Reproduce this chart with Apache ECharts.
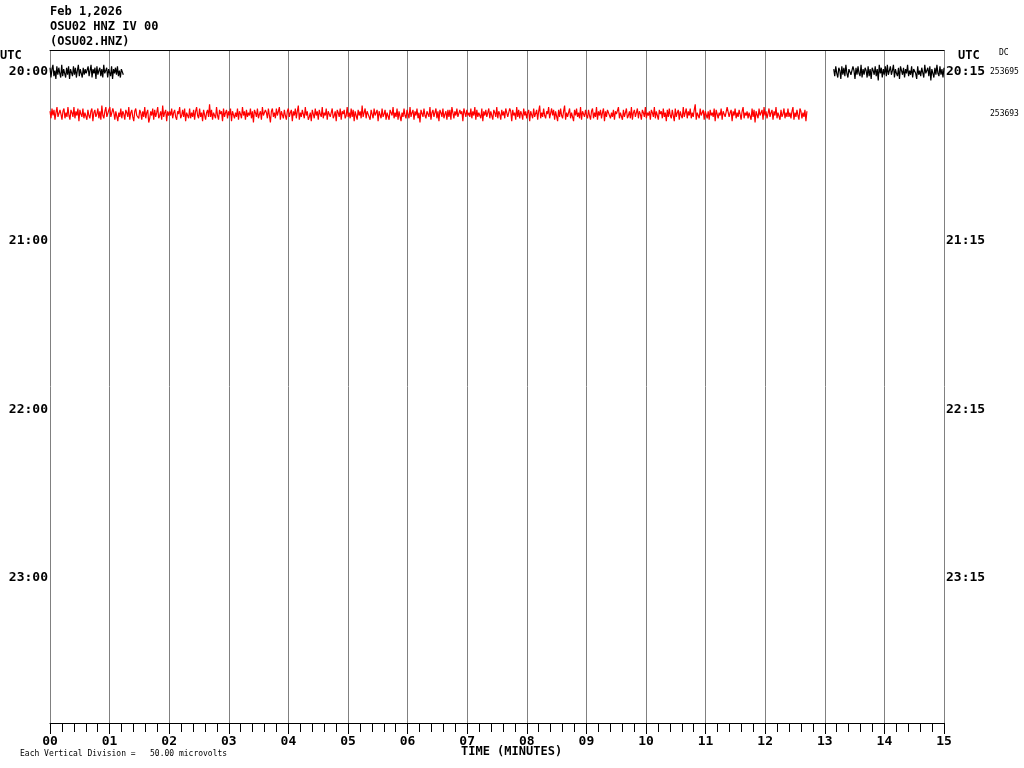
<!DOCTYPE html>
<html><head><meta charset="utf-8">
<script src="https://cdn.jsdelivr.net/npm/echarts@6/dist/echarts.min.js"></script>
<style>html,body{margin:0;padding:0;background:#fff}#c{width:1024px;height:768px}</style>
</head><body><div id="c"></div>
<script>
// ---- data ----
const titleLines = ['Feb 1,2026', 'OSU02 HNZ IV 00', '(OSU02.HNZ)'];
const leftRowLabels = ['20:00', '21:00', '22:00', '23:00'];
const rightRowLabels = ['20:15', '21:15', '22:15', '23:15'];
const labelRows = [0, 4, 8, 12];
const xTickLabels = ['00','01','02','03','04','05','06','07','08','09','10','11','12','13','14','15'];
const dcLabels = ['253695', '253693'];
const footerText = 'Each Vertical Division =   50.00 microvolts';
const xAxisTitle = 'TIME (MINUTES)';

// trace segments: row index, start minute, end minute
const blackLeft = {row: 0, start: 0.0, end: 1.23};
const blackRight = {row: 0, start: 13.15, end: 15.0};
const redTrace = {row: 1, start: 0.0, end: 12.70};

// amplitude samples (microvolt-ish units, read by eye)
const blackLeftVals = [3,-4,2,5,-3,1,-5,4,-2,3,-1,-4,5,-3,2,1,-4,3,-2,4,-5,2,1,-3,4,-2,3,-4,1,5,-3,2,-1,-4,3,-2,2,-1,
-2,4,-3,1,5,-4,2,-1,3,-5,4,-2,1,3,-3,2,-4,5,-1,-2,3,-4,2,1,-3,4,-5,2,-1,3,-2,4,-3,1,-4,2,3,-2];
const blackRightVals = [2,-3,4,-1,-4,3,1,-5,4,-2,3,-3,5,-1,-4,2,3,-2,-3,4,1,-5,3,-2,4,-1,-3,5,-4,2,-2,3,1,-4,4,-3,2,-5,3,1,-2,4,-3,2,-6,5,-1,3,-4,2,-2,4,-3,5,-2,
-3,4,-2,1,5,-4,2,-1,-3,3,-5,4,1,-2,3,-4,2,-1,5,-3,1,-2,4,-4,2,3,-1,-5,4,-2,1,-3,3,2,-4,5,-1,-2,3,-3,4,-6,2,1,-4,3,-2,5,-1,-3,4,-2,2,-4,3];
const redVals = [
2,-3,4,-1,3,-4,1,5,-2,-3,3,0,-4,2,4,-3,1,-2,5,-1,
-4,3,1,-2,5,-3,2,-1,4,-5,3,0,-2,4,-3,1,2,-4,3,-1,
-3,2,4,-5,1,3,-2,0,4,-3,2,-4,6,-1,-3,2,5,-2,-1,3,
5,-2,-3,4,1,-4,2,3,-5,1,-2,4,-3,2,0,-4,3,1,-2,5,
-4,1,3,-2,-5,2,4,-1,0,-3,3,1,-4,2,-2,5,-3,1,3,-6,
-3,2,-1,4,-4,3,-2,1,5,-3,-1,2,-4,6,-2,1,3,-5,2,-1,
2,-1,4,-3,1,3,-2,-4,2,0,5,-3,-1,3,-2,4,-5,1,2,-3,
4,-3,1,-2,3,-4,2,5,-1,-3,4,-2,1,-5,3,2,-4,1,3,-2,
7,-2,3,-4,1,2,-3,5,-1,-4,3,0,2,-5,4,-2,1,3,-3,2,
-1,4,-5,2,3,-3,1,-2,4,-4,2,0,-3,5,-1,2,-4,3,-2,1,
-1,4,-3,2,-6,3,1,-2,4,-3,0,2,-4,5,-1,-2,3,1,-3,4,
3,-6,2,4,-2,1,-3,4,-1,-2,5,-4,2,1,-3,3,-1,-4,2,4,
-2,1,3,-5,2,-1,4,-3,2,6,-4,1,-2,3,0,-3,5,-1,2,-4,
-2,1,-5,3,2,-3,4,-1,2,-4,3,0,-2,5,-3,1,-1,4,-4,2,
3,-2,1,4,-3,-1,2,-5,3,1,-2,4,-4,2,0,3,-3,-1,5,-2,
1,-3,4,-2,3,-5,2,1,-4,3,-1,2,-3,6,-2,-1,4,-3,2,0,
1,-4,3,2,-3,4,-1,-2,3,-5,2,1,-3,4,-2,0,3,-4,1,2,
-4,3,2,-1,5,-3,1,-2,4,-4,2,3,-5,1,-2,4,-1,-3,3,2,
-3,5,-2,1,3,-4,2,-1,4,-3,1,-6,3,2,-2,4,-1,-3,2,1,
-2,5,-4,1,3,-2,-1,4,-3,2,-5,3,1,-2,4,-3,0,2,-4,3,
-2,3,-4,5,1,-3,2,-1,4,-2,-3,3,0,2,-5,4,1,-2,3,-1,
1,-2,4,-3,2,-1,5,-4,3,-2,1,2,-3,4,-5,2,-1,3,-2,1,
4,-3,2,-1,-4,3,1,-2,5,-3,2,0,-4,3,-1,2,-3,4,1,-2,
-3,4,2,-5,3,-1,1,-4,5,-2,3,-3,2,0,-4,4,-1,2,-3,1,
3,-5,2,1,-3,4,-2,-1,3,-4,2,6,-3,1,-2,4,-1,-3,2,0,
5,-3,-2,4,-1,3,-4,2,1,-5,3,-2,4,-1,-3,2,6,-4,1,-2,
-2,4,-3,1,2,-5,3,-1,4,-2,1,-3,5,-4,2,1,-2,3,-1,-3,
3,-1,-4,2,4,-3,1,-2,5,-4,2,-1,3,-3,1,4,-5,2,-2,3,
2,4,-3,1,-2,3,-4,2,0,-1,5,-3,1,2,-4,3,-2,1,4,-3,
-1,2,-3,5,-4,1,3,-2,-1,4,-3,2,0,-4,3,1,-2,5,-3,1,
-1,2,-4,3,1,-2,5,-3,2,-1,-4,3,0,2,-3,4,-2,1,-5,3,
-2,4,-1,-3,3,2,-5,4,-2,1,3,-4,2,-1,-3,5,-2,1,4,-3,
2,-1,4,-3,1,-2,3,7,-4,1,2,-3,4,-1,-2,3,-4,2,1,-3,
2,-4,3,-1,1,-2,4,-5,3,2,-3,1,-1,4,-4,2,3,-2,-1,5,
4,-2,1,3,-5,2,-1,4,-3,1,-2,3,0,-4,2,5,-3,1,-1,2,
-3,1,2,-4,4,-2,3,-6,2,1,-3,4,-1,-2,3,-4,5,-1,2,-3,
-3,4,-2,1,3,-4,2,-1,5,-3,1,2,-4,3,-2,0,4,-3,1,-2,
4,-2,1,-3,2,5,-4,1,-2,3,-1,-4,4,2,-3,1,-2,3,-5,2
];

// ---- build ----
const unitsPerRow = 30;   // amplitude units per row spacing
function build(seg, vals) {
  const n = vals.length;
  const dt = (seg.end - seg.start) / (n - 1);
  return vals.map((v, i) => [seg.start + i * dt, seg.row - v / unitsPerRow]);
}

const FONT = 'DejaVu Sans Mono';
const chart = echarts.init(document.getElementById('c'));
const yMin = -0.52, yMax = 15.44;

const lineSeries = (data, color) => ({
  type: 'line', data, showSymbol: false, symbol: 'none', animation: false,
  lineStyle: {color, width: 1.2}, xAxisIndex: 0, yAxisIndex: 0, silent: true
});

chart.setOption({
  animation: false,
  backgroundColor: '#ffffff',
  grid: {left: 50, right: 80, top: 50, bottom: 45, containLabel: false},
  xAxis: [{
    type: 'value', min: 0, max: 15, interval: 1, position: 'bottom',
    axisLine: {show: true, onZero: false, lineStyle: {color: '#000', width: 1}},
    axisTick: {show: true, length: 11, lineStyle: {color: '#000'}},
    minorTick: {show: true, splitNumber: 5, length: 9, lineStyle: {color: '#000'}},
    splitLine: {show: true, lineStyle: {color: '#808080', width: 1}},
    axisLabel: {margin: 12, fontFamily: FONT, fontWeight: 'bold', fontSize: 13, color: '#000',
      formatter: v => xTickLabels[Math.round(v)] || ''}
  }, {
    type: 'value', min: 0, max: 15, position: 'top',
    axisLine: {show: true, onZero: false, lineStyle: {color: '#000', width: 1}},
    axisTick: {show: false}, axisLabel: {show: false}, splitLine: {show: false}
  }],
  yAxis: [{
    type: 'value', inverse: true, min: yMin, max: yMax, position: 'left',
    axisLine: {show: false}, axisTick: {show: false}, splitLine: {show: false},
    axisLabel: {customValues: labelRows, margin: 2, fontFamily: FONT, fontWeight: 'bold', fontSize: 13, color: '#000',
      formatter: v => leftRowLabels[labelRows.indexOf(Math.round(v))] || ''}
  }, {
    type: 'value', inverse: true, min: yMin, max: yMax, position: 'right',
    axisLine: {show: false}, axisTick: {show: false}, splitLine: {show: false},
    axisLabel: {customValues: labelRows, margin: 2, fontFamily: FONT, fontWeight: 'bold', fontSize: 13, color: '#000',
      formatter: v => rightRowLabels[labelRows.indexOf(Math.round(v))] || ''}
  }],
  series: [
    lineSeries(build(blackLeft, blackLeftVals), '#000000'),
    lineSeries(build(blackRight, blackRightVals), '#000000'),
    lineSeries(build(redTrace, redVals), '#ff0000')
  ],
  graphic: [
    ...titleLines.map((t, i) => ({type: 'text', left: 50, top: 6 + i * 15,
      style: {text: t, font: 'bold 12px ' + FONT, fill: '#000'}})),
    {type: 'text', left: 0, top: 50, style: {text: 'UTC', font: 'bold 12px ' + FONT, fill: '#000'}},
    {type: 'text', left: 958, top: 50, style: {text: 'UTC', font: 'bold 12px ' + FONT, fill: '#000'}},
    {type: 'text', left: 999, top: 49, style: {text: 'DC', font: '8px ' + FONT, fill: '#000'}},
    {type: 'text', left: 990, top: 68, style: {text: dcLabels[0], font: '8px ' + FONT, fill: '#000'}},
    {type: 'text', left: 990, top: 110, style: {text: dcLabels[1], font: '8px ' + FONT, fill: '#000'}},
    {type: 'text', left: 20, top: 750, style: {text: footerText, font: '8px ' + FONT, fill: '#000'}},
    {type: 'text', left: 461, top: 746, style: {text: xAxisTitle, font: 'bold 12px ' + FONT, fill: '#000'}}
  ]
});
</script></body></html>
